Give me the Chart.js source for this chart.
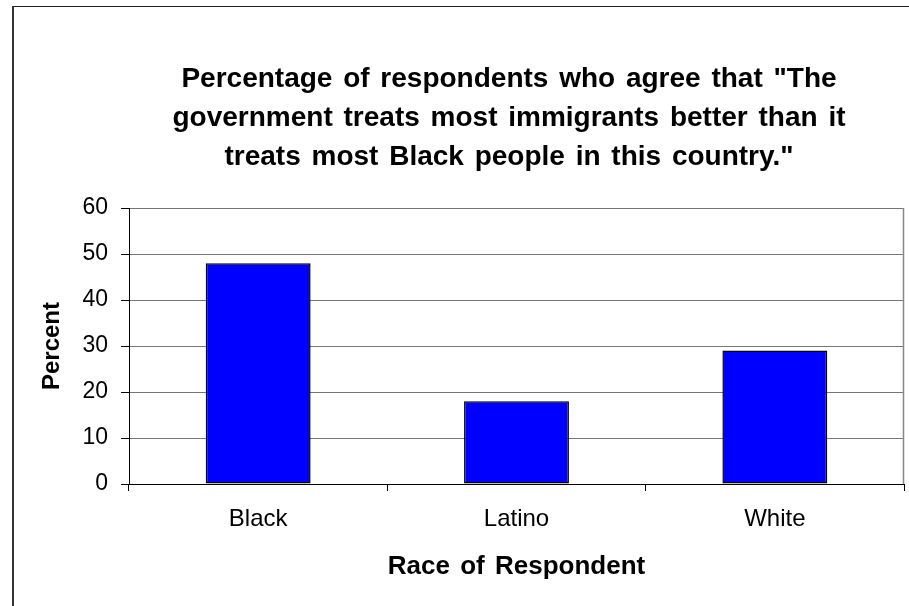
<!DOCTYPE html>
<html>
<head>
<meta charset="utf-8">
<script src="https://cdn.jsdelivr.net/npm/chart.js@4"></script>
<style>
  html, body { margin: 0; padding: 0; background: #fff; overflow: hidden; }
  #chartRace { display: block; }
</style>
</head>
<body>
<canvas id="chartRace" width="1018" height="606"></canvas>
<script>
let races = ['Black', 'Latino', 'White'];
let agreePercent = [48, 18, 29];
let yMin = 0;
let yMax = 60;
let yStep = 10;

let titleLines = [
    'Percentage of respondents who agree that "The',
    'government treats most immigrants better than it',
    'treats most Black people in this country."'
];

const fontFamily = '"Liberation Sans", Arial, sans-serif';

// frame round the whole chart + right edge of the plot area
const chartFrame = {
    id: 'chartFrame',
    beforeDraw(chart) {
        const ctx = chart.ctx;
        ctx.wordSpacing = '3px';
        ctx.save();
        ctx.strokeStyle = '#222';
        ctx.lineWidth = 1;
        ctx.beginPath();
        ctx.moveTo(1006, 6.5);
        ctx.lineTo(12, 6.5);
        ctx.stroke();
        ctx.lineWidth = 2;
        ctx.strokeStyle = '#333';
        ctx.beginPath();
        ctx.moveTo(13, 6);
        ctx.lineTo(13, 700);
        ctx.stroke();
        ctx.restore();
    },
    beforeDatasetsDraw(chart) {
        const a = chart.chartArea;
        const ctx = chart.ctx;
        ctx.save();
        ctx.strokeStyle = '#888';
        ctx.lineWidth = 1.5;
        ctx.beginPath();
        ctx.moveTo(a.right - 0.5, a.top);
        ctx.lineTo(a.right - 0.5, a.bottom);
        ctx.stroke();
        ctx.restore();
    }
};

let ctxRace = document.getElementById('chartRace');

let myChart = new Chart(ctxRace, {
    type: 'bar',
    data: {
        labels: races,
        datasets: [{
            label: 'Percent',
            data: agreePercent,
            backgroundColor: '#0000FF',
            borderColor: '#000',
            borderWidth: 1.5,
            borderSkipped: false,
            barPercentage: 0.406,
            categoryPercentage: 1
        }]
    },
    options: {
        responsive: false,
        animation: false,
        layout: {
            padding: 0
        },
        plugins: {
            legend: { display: false },
            tooltip: { enabled: false },
            title: {
                display: true,
                text: titleLines,
                color: '#000',
                font: { family: fontFamily, size: 28, weight: 'bold', lineHeight: 39 / 28 },
                padding: { top: 60, bottom: 31 }
            }
        },
        scales: {
            x: {
                afterFit(scale) { scale.height = 122; },
                grid: {
                    display: true,
                    drawOnChartArea: false,
                    drawTicks: true,
                    tickLength: 7,
                    offset: true,
                    tickColor: '#000'
                },
                border: { color: '#000', width: 1 },
                ticks: {
                    color: '#000',
                    padding: 14,
                    font: { family: fontFamily, size: 24 }
                },
                title: {
                    display: true,
                    text: 'Race of Respondent',
                    color: '#000',
                    font: { family: fontFamily, size: 26, weight: 'bold' },
                    padding: { top: 0, bottom: 24 }
                }
            },
            y: {
                min: yMin,
                max: yMax,
                afterFit(scale) { scale.width = 129; },
                grid: {
                    color: '#777',
                    lineWidth: 1,
                    tickLength: 8,
                    tickColor: '#000'
                },
                border: { color: '#000', width: 1 },
                ticks: {
                    stepSize: yStep,
                    color: '#000',
                    padding: 13,
                    font: { family: fontFamily, size: 23 }
                },
                title: {
                    display: true,
                    text: 'Percent',
                    color: '#000',
                    font: { family: fontFamily, size: 24, weight: 'bold' },
                    padding: { top: 38, bottom: 0 }
                }
            },
            // empty strip on the right so the plot stops short of the frame
            rightGap: {
                position: 'right',
                afterFit(scale) { scale.width = 114; },
                grid: { display: false },
                border: { display: false },
                ticks: { display: false }
            }
        }
    },
    plugins: [chartFrame]
});
</script>
</body>
</html>
